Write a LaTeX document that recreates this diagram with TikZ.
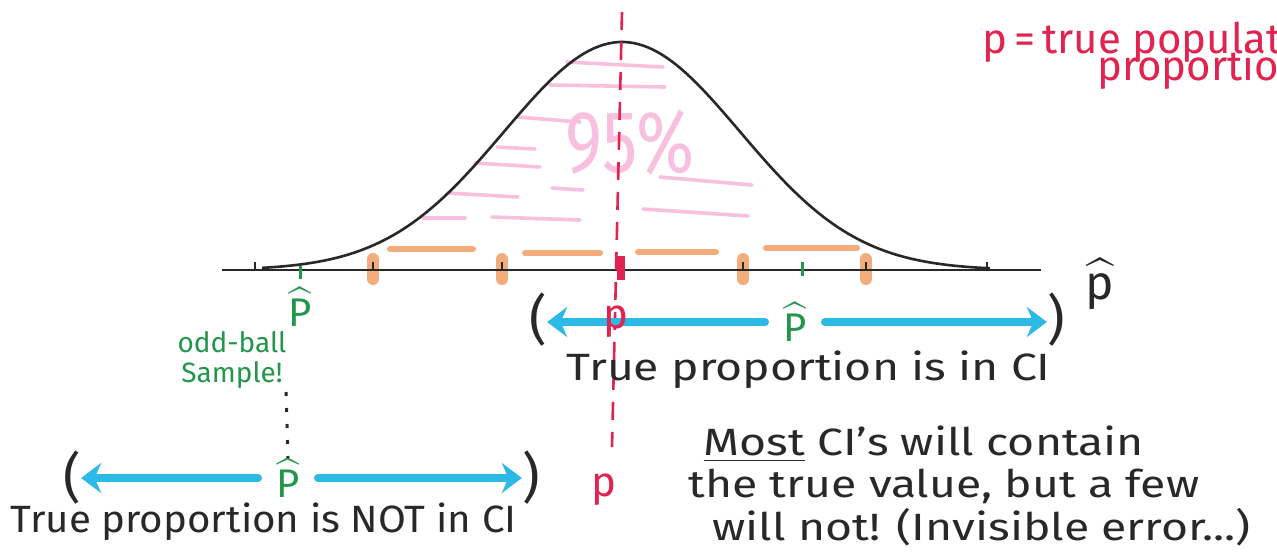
\documentclass[tikz,border=0pt]{standalone}
\usepackage{fontspec}
\usepackage{amsmath}
\setmainfont{Fira Sans}
\usetikzlibrary{arrows.meta}

\definecolor{pen}{RGB}{40,40,40}
\definecolor{redpen}{RGB}{225,35,80}
\definecolor{greenpen}{RGB}{35,150,75}
\definecolor{bluepen}{RGB}{45,185,230}
\definecolor{orangepen}{RGB}{245,172,125}
\definecolor{pinkpen}{RGB}{248,192,222}

\begin{document}
\begin{tikzpicture}[x=0.5pt, y=-0.5pt, >={Stealth[length=10pt,width=15pt]},
    hand/.style={font=\fontsize{19}{22}\selectfont, text=pen, inner sep=0pt, xscale=1.22},
    paren/.style={font=\fontsize{27}{30}\selectfont\addfontfeature{FakeBold=-0.3}, text=pen, inner sep=0pt},
    hatp/.style={font=\fontsize{20}{22}\selectfont, text=greenpen, inner xsep=9pt, inner ysep=0pt},
    ciarrow/.style={->, line width=4pt, bluepen, line cap=round},
    shade/.style={line width=1.8pt, pinkpen, line cap=round},
    orangemark/.style={line width=6pt, orangepen, line cap=round}]
    \useasboundingbox (0,0) rectangle (1277,554);
    \fill[white] (0,0) rectangle (1277,554);

    % 95% shading
    \foreach \a/\b/\c/\d in {567/62/663/67, 550/85/665/87, 517/117/580/122,
        497/147/535/149, 475/163/540/167, 552/188/583/190, 447/193/518/197,
        423/218/465/218, 492/217/580/220, 660/177/752/185, 643/209/748/216}
        \draw[shade] (\a,\b) -- (\c,\d);
    \node[font=\fontsize{44}{44}\selectfont, text=pinkpen, xscale=0.8, inner sep=0pt] (pct) at (630,143) {95\%};

    % sampling distribution
    \draw[pen, line width=1.3pt, domain=262:990, samples=150]
        plot (\x, {270-228*exp(-((\x-622)/118)^2/2)});

    % orange intervals
    \foreach \a/\b/\y in {390/473/249, 525/600/253, 638/716/252, 766/857/248}
        \draw[line width=3pt, orangepen, line cap=round] (\a,\y) -- (\b,\y);
    \foreach \t in {373,502,743,866}
        \draw[orangemark] (\t,259) -- (\t,279);

    % axis
    \draw[pen, line width=1pt] (222,270) -- (1041,270);
    \foreach \t in {255,373,502,743,866,987}
        \draw[pen, line width=1pt] (\t,270) -- (\t,262);
    \node[font=\fontsize{24}{26}\selectfont, text=pen, inner sep=0pt] (phatAxis) at (1100,284) {$\widehat{\text{p}}$};

    % true p
    \coordinate (ptop) at (622,12);
    \coordinate (pend) at (612,447);
    \draw[redpen, line width=1.3pt, dash pattern=on 9pt off 6pt] (ptop) -- (pend);
    \draw[redpen, line width=4pt] (621,256) -- (621,280);
    \node[hand, xscale=1/1.22, text=redpen, font=\fontsize{21}{24}\selectfont, anchor=base west] (pdef) at (982,53) {p\,=\,true population};
    \node[hand, xscale=1/1.22, text=redpen, font=\fontsize{21}{24}\selectfont, anchor=base west] (pdef2) at (1097,80) {proportion};

    % sample estimates on the axis
    \draw[greenpen, line width=1.5pt] (300,266) -- (300,279);
    \draw[greenpen, line width=1.5pt] (802,262) -- (802,276);
    \node[hatp, inner xsep=0pt] (phatA) at (300,307) {$\widehat{\text{P}}$};

    % CI containing p
    \node[paren] (lparU) at (538,320) {(};
    \node[paren] (rparU) at (1056,320) {)};
    \node[hatp] (phatU) at (795,322) {$\widehat{\text{P}}$};
    \draw[ciarrow] (phatU.west) -- (lparU.east |- phatU.west);
    \draw[ciarrow] (phatU.east) -- (rparU.west |- phatU.east);
    \node[hand, xscale=1/1.22, text=redpen, font=\fontsize{21}{24}\selectfont] (pU) at (616,322) {p};
    \node[hand, anchor=base west] (inCI) at (566,380) {True proportion is in CI};

    % odd-ball CI
    \node[hand, xscale=1/1.22, text=greenpen, font=\fontsize{14}{15}\selectfont, align=center] (odd) at (232,360) {odd-ball\\Sample!};
    \node[paren] (lparL) at (72,478) {(};
    \node[paren] (rparL) at (531,478) {)};
    \node[hatp] (phatL) at (288,478) {$\widehat{\text{P}}$};
    \coordinate (dotTop) at (286,392);
    \draw[pen, line width=1.5pt, dash pattern=on 2pt off 6pt] (dotTop) -- (phatL.north);
    \draw[ciarrow] (phatL.west) -- (lparL.east |- phatL.west);
    \draw[ciarrow] (phatL.east) -- (rparL.west |- phatL.east);
    \node[hand, xscale=1/1.22, text=redpen, font=\fontsize{21}{24}\selectfont] (pL) at (604,490) {p};
    \node[hand, xscale=1.06/1.22, anchor=base west] (notCI) at (10,532) {True proportion is NOT in CI};

    % note
    \node[hand, anchor=base west] (most1) at (703,455) {\underline{Most} CI's will contain};
    \node[hand, anchor=base west] (most2) at (688,497) {the true value, but a few};
    \node[hand, anchor=base west] (most3) at (712,540) {will not! (Invisible error...)};
\end{tikzpicture}
\end{document}
